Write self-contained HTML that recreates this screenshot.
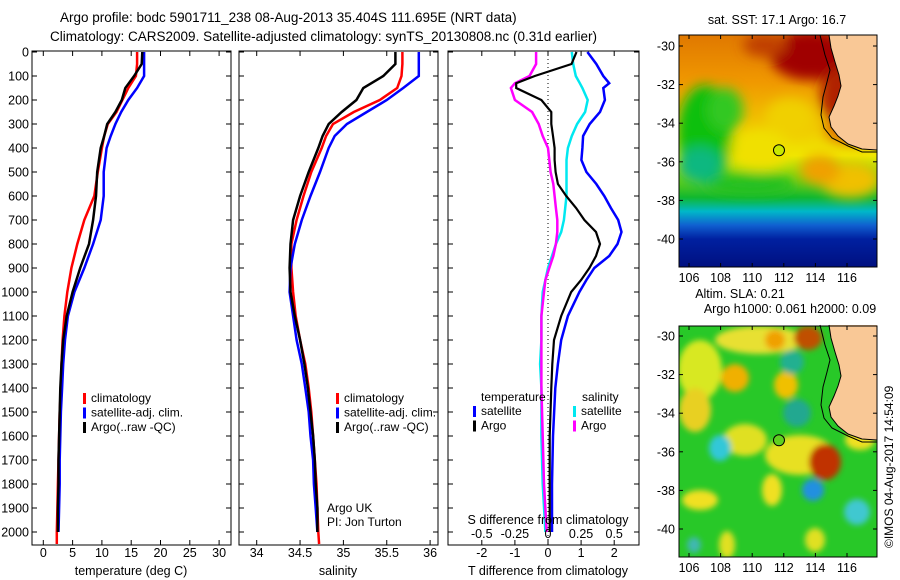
<!DOCTYPE html>
<html><head><meta charset="utf-8">
<style>
html,body{margin:0;padding:0;background:#fff;}
svg{display:block;font-family:"Liberation Sans",sans-serif;}
text{fill:#000;}
</style></head>
<body>
<svg id="chart" width="900" height="580" viewBox="0 0 900 580" xmlns="http://www.w3.org/2000/svg">
<defs>
<filter id="blur6" x="-20%" y="-20%" width="140%" height="140%"><feGaussianBlur stdDeviation="6"/></filter>
<filter id="blur3" x="-20%" y="-20%" width="140%" height="140%"><feGaussianBlur stdDeviation="3"/></filter>
<clipPath id="clipMap1"><rect x="679" y="35" width="198" height="232"/></clipPath>
<clipPath id="clipMap2"><rect x="679" y="326" width="198" height="231"/></clipPath>
<linearGradient id="sstGrad" x1="0" y1="0" x2="0" y2="1">
<stop offset="0" stop-color="#e07800"/><stop offset="0.2" stop-color="#f09800"/>
<stop offset="0.4" stop-color="#f0c800"/><stop offset="0.52" stop-color="#f0e800"/>
<stop offset="0.62" stop-color="#70d010"/><stop offset="0.7" stop-color="#10b830"/>
<stop offset="0.76" stop-color="#00b8c8"/><stop offset="0.82" stop-color="#1060d0"/>
<stop offset="0.88" stop-color="#0020a0"/><stop offset="1" stop-color="#001080"/></linearGradient>
</defs>
<text x="60" y="22" font-size="13.5">Argo profile: bodc 5901711_238 08-Aug-2013 35.404S 111.695E (NRT data)</text>
<text x="50" y="41" font-size="13.5">Climatology: CARS2009. Satellite-adjusted climatology: synTS_20130808.nc (0.31d earlier)</text>
<g id="p1"></g>
<g id="p2"></g>
<g id="p3"></g>
<g id="m1"></g>
<g id="m2"></g>
<text transform="translate(893,548) rotate(-90)" font-size="12">©IMOS 04-Aug-2017 14:54:09</text>
</svg>
<script>
// ---------- data ----------
const depthTS = [0,50,100,150,200,250,300,350,400,500,600,700,800,900,1000,1100,1200,1300,1400,1500,1600,1700,1800,1900,2000,2050];
const tempClim = [16,16,15.8,14.5,13.5,12.5,11,10.4,10,9.3,8.7,7,5.8,4.8,4.1,3.6,3.3,3.1,3,2.8,2.7,2.6,2.5,2.4,2.3,2.3];
const tempSat = [17.2,17.2,17.2,16,14.5,13.3,12.3,11.5,10.8,10.3,10.3,9.8,8.5,7,5.3,4.2,3.7,3.4,3.2,3.0,2.9,2.8,2.8,2.7,2.6,2.6];
const tempArgo = [16.9,16.8,15.5,14,13.4,12.3,10.9,10.4,9.8,9.2,9,8.5,7.8,6.3,5,4,3.4,3.1,2.9,2.8,2.7,2.6,2.6,2.5,2.5,2.5];
const salClim = [35.68,35.68,35.67,35.62,35.42,35.12,34.88,34.8,34.75,34.63,34.54,34.46,34.40,34.40,34.42,34.45,34.5,34.56,34.6,34.63,34.65,34.67,34.69,34.70,34.71,34.72];
const salSat = [35.87,35.87,35.87,35.69,35.5,35.27,35.04,34.9,34.83,34.73,34.62,34.52,34.44,34.39,34.38,34.42,34.46,34.52,34.56,34.6,34.62,34.65,34.66,34.68,34.7,34.7];
const salArgo = [35.6,35.6,35.46,35.23,35.15,34.98,34.83,34.76,34.71,34.6,34.5,34.42,34.39,34.38,34.39,34.44,34.5,34.55,34.59,34.62,34.65,34.67,34.68,34.7,34.7,34.7];
const depthDiff = [0,50,100,130,150,200,250,300,350,400,450,500,550,600,650,700,750,800,850,900,950,1000,1100,1200,1300,1400,1600,1800,2000];
const tDiffSat = [1.19,1.46,1.67,1.85,1.67,1.72,1.57,1.26,1.06,1.04,1.01,1.16,1.46,1.7,1.9,2.12,2.22,2.1,1.85,1.4,1.16,0.95,0.6,0.4,0.3,0.22,0.15,0.12,0.12];
const tDiffArgo = [0.86,0.71,-0.4,-0.96,-0.96,-0.2,0.1,0.1,0.15,0.2,0.2,0.23,0.3,0.55,0.85,1.1,1.45,1.57,1.45,1.25,1.0,0.7,0.4,0.18,0.13,0.1,0.05,0.05,0.05];
const sDiffSat = [0.18,0.19,0.21,0.24,0.26,0.3,0.28,0.22,0.18,0.15,0.14,0.14,0.14,0.14,0.13,0.12,0.1,0.06,0.03,0,-0.02,-0.04,-0.05,-0.05,-0.06,-0.05,-0.05,-0.04,-0.02];
const sDiffArgo = [-0.09,-0.09,-0.14,-0.25,-0.28,-0.25,-0.12,-0.07,-0.04,0,0.01,0.02,0.04,0.05,0.06,0.07,0.07,0.06,0.04,0.01,-0.02,-0.03,-0.05,-0.05,-0.05,-0.05,-0.04,-0.03,-0.01];
const depthTicks = [0,100,200,300,400,500,600,700,800,900,1000,1100,1200,1300,1400,1500,1600,1700,1800,1900,2000];
const tempTicks = [0,5,10,15,20,25,30];
const salTicks = [34,34.5,35,35.5,36];
const tDiffTicks = [-2,-1,0,1,2];
const sDiffTicks = [-0.5,-0.25,0,0.25,0.5];
const sDiffTickLabels = ["-0.5","-0.25","0","0.25","0.5"];
const latTicks = [-30,-32,-34,-36,-38,-40];
const lonTicks = [106,108,110,112,114,116];
const argoLon = 111.695, argoLat = -35.404;

// ---------- scales ----------
const yD = d => 52 + d*0.24;
const xT = t => 43.3 + t*5.86;
const xS = s => 256.7 + (s-34)*86.7;
const xTD = t => 548 + t*33.1;
const xSD = s => 548 + s*132.4;
const mapX = lon => 689 + (lon-106)*15.8;
const mapY1 = lat => 46 + (-30-lat)*19.3;
const mapY2 = lat => 336 + (-30-lat)*19.3;

const NS="http://www.w3.org/2000/svg";
function mk(parent, tag, attrs, text){
  const e=document.createElementNS(NS,tag);
  for(const k in attrs) e.setAttribute(k,attrs[k]);
  if(text!==undefined) e.textContent=text;
  parent.appendChild(e); return e;
}
function frame(g, x0, x1, y0, y1, name){
  const r = mk(g,'rect',{x:x0,y:y0,width:x1-x0,height:y1-y0,fill:'none',stroke:'#000','stroke-width':1});
  
  
}
function depthTicksDraw(g, x0, x1, labels){
  depthTicks.forEach(d=>{
    const y=yD(d);
    mk(g,'line',{x1:x0,x2:x0+5,y1:y,y2:y,stroke:'#000'});
    mk(g,'line',{x1:x1-5,x2:x1,y1:y,y2:y,stroke:'#000'});
    if(labels){
      const t=mk(g,'text',{x:x0-3,y:y+4.5,'font-size':12.5,'text-anchor':'end'},String(d));
      
      
    }
  });
}
function xTicks(g, ticks, labels, fx, y0, y1, ly){
  ticks.forEach((v,i)=>{
    const x=fx(v);
    mk(g,'line',{x1:x,x2:x,y1:y1,y2:y1-5,stroke:'#000'});
    mk(g,'line',{x1:x,x2:x,y1:y0,y2:y0+5,stroke:'#000'});
    const t=mk(g,'text',{x:x,y:ly,'font-size':12.5,'text-anchor':'middle'},labels[i]);
    
    
  });
}
function series(g, xs, ds, fx, color, w, name){
  const pts = xs.map((v,i)=>fx(v).toFixed(1)+','+yD(ds[i]).toFixed(1)).join(' ');
  const p = mk(g,'polyline',{points:pts,fill:'none',stroke:color,'stroke-width':w,'stroke-linejoin':'miter'});
  
  
}
function legend(g, x, y, entries){
  entries.forEach((e,i)=>{
    const yy=y+i*14.5;
    const m=mk(g,'rect',{x:x,y:yy-9,width:3,height:11,fill:e[1]});
    
    
    const t=mk(g,'text',{x:x+8,y:yy,'font-size':12},e[0]);
    
    
  });
}
const YB = 545;

// ---------- panel 1 ----------
const p1=document.getElementById('p1');
series(p1,tempClim,depthTS,xT,'#ff0000',2.5,'temp-climatology-line');
series(p1,tempSat,depthTS.slice(0,25),xT,'#0000ff',2.5,'temp-satellite-line');
series(p1,tempArgo,depthTS.slice(0,25),xT,'#000000',2.5,'temp-argo-line');
frame(p1,32,231,51,YB,'temperature-axes');
depthTicksDraw(p1,32,231,true);
xTicks(p1,tempTicks,tempTicks.map(String),xT,51,YB,557);
mk(p1,'text',{x:131,y:575,'font-size':12.5,'text-anchor':'middle'},'temperature (deg C)');
legend(p1,83,402,[['climatology','#ff0000'],['satellite-adj. clim.','#0000ff'],['Argo(..raw -QC)','#000000']]);

// ---------- panel 2 ----------
const p2=document.getElementById('p2');
series(p2,salClim,depthTS,xS,'#ff0000',2.5,'sal-climatology-line');
series(p2,salSat,depthTS.slice(0,25),xS,'#0000ff',2.5,'sal-satellite-line');
series(p2,salArgo,depthTS.slice(0,25),xS,'#000000',2.5,'sal-argo-line');
frame(p2,239,438,51,YB,'salinity-axes');
depthTicksDraw(p2,239,438,false);
xTicks(p2,salTicks,salTicks.map(String),xS,51,YB,557);
mk(p2,'text',{x:338,y:575,'font-size':12.5,'text-anchor':'middle'},'salinity');
legend(p2,336,402,[['climatology','#ff0000'],['satellite-adj. clim.','#0000ff'],['Argo(..raw -QC)','#000000']]);
mk(p2,'text',{x:327,y:512,'font-size':12},'Argo UK');
mk(p2,'text',{x:327,y:526,'font-size':12},'PI: Jon Turton');

// ---------- panel 3 ----------
const p3=document.getElementById('p3');
mk(p3,'line',{x1:548,x2:548,y1:51,y2:YB,stroke:'#000','stroke-dasharray':'1,3'});
series(p3,sDiffSat,depthDiff,xSD,'#00e8f0',2.5,'sal-diff-satellite-line');
series(p3,sDiffArgo,depthDiff,xSD,'#ff00ff',2.5,'sal-diff-argo-line');
series(p3,tDiffSat,depthDiff,xTD,'#0000ff',2.5,'temp-diff-satellite-line');
series(p3,tDiffArgo,depthDiff,xTD,'#000000',2.2,'temp-diff-argo-line');
frame(p3,448,639,51,YB,'difference-axes');
depthTicksDraw(p3,448,639,false);
tDiffTicks.forEach(v=>{const x=xTD(v);mk(p3,'line',{x1:x,x2:x,y1:YB,y2:YB-5,stroke:'#000'});mk(p3,'line',{x1:x,x2:x,y1:51,y2:56,stroke:'#000'});
  const t=mk(p3,'text',{x:x,y:557,'font-size':12.5,'text-anchor':'middle'},String(v));});
sDiffTicks.forEach((v,i)=>{const t=mk(p3,'text',{x:xSD(v),y:538,'font-size':12.5,'text-anchor':'middle'},sDiffTickLabels[i]);});
mk(p3,'text',{x:548,y:524,'font-size':12.5,'text-anchor':'middle'},'S difference from climatology');
mk(p3,'text',{x:548,y:575,'font-size':12.5,'text-anchor':'middle'},'T difference from climatology');
mk(p3,'text',{x:481,y:401,'font-size':12},'temperature');
mk(p3,'text',{x:582,y:401,'font-size':12},'salinity');
legend(p3,473,415,[['satellite','#0000ff'],['Argo','#000000']]);
legend(p3,573,415,[['satellite','#00e8f0'],['Argo','#ff00ff']]);

// ---------- maps ----------
function land(g, dy){
  const pts=[[829,35],[877,35],[877,150],[862,149],[848,144],[838,136],[831,127],[829,117],[834,106],[838,96],[841,86],[839,75],[835,62],[831,48]];
  mk(g,'polygon',{points:pts.map(p=>p[0]+','+(p[1]+dy)).join(' '),fill:'#f9c896'});
  const coast=[[820,35],[825,55],[830,70],[827,82],[823,97],[821,115],[824,128],[832,138],[848,146],[862,152],[877,152]];
  mk(g,'polyline',{points:coast.map(p=>p[0]+','+(p[1]+dy)).join(' '),fill:'none',stroke:'#000','stroke-width':1});
  mk(g,'polyline',{points:pts.slice(2).concat([[829,35]]).map(p=>p[0]+','+(p[1]+dy)).join(' '),fill:'none',stroke:'#000','stroke-width':1});
}
function mapAxes(g, y0, y1, fy, name){
  frame(g,679,877,y0,y1,name);
  latTicks.forEach(l=>{const y=fy(l);mk(g,'line',{x1:679,x2:683,y1:y,y2:y,stroke:'#000'});mk(g,'line',{x1:873,x2:877,y1:y,y2:y,stroke:'#000'});
    const t=mk(g,'text',{x:675,y:y+4.5,'font-size':12.5,'text-anchor':'end'},String(l));});
  lonTicks.forEach(l=>{const x=mapX(l);mk(g,'line',{x1:x,x2:x,y1:y0,y2:y0+4,stroke:'#000'});mk(g,'line',{x1:x,x2:x,y1:y1,y2:y1-4,stroke:'#000'});
    const t=mk(g,'text',{x:x,y:y1+15,'font-size':12.5,'text-anchor':'middle'},String(l));});
}
function blobs(g, list, filt){
  const bg=mk(g,'g',{filter:'url(#'+filt+')'});
  list.forEach(b=>mk(bg,'ellipse',{cx:b[0],cy:b[1],rx:b[2],ry:b[3],fill:b[4]}));
}
// SST map
const m1=document.getElementById('m1');
const c1=mk(m1,'g',{'clip-path':'url(#clipMap1)'});
mk(c1,'rect',{x:679,y:35,width:198,height:232,fill:'url(#sstGrad)'});
blobs(c1,[[810,55,40,25,'#a00000'],[765,45,22,12,'#c04000'],[845,95,25,30,'#b02000'],[855,130,30,14,'#e07000'],
  [705,135,28,50,'#10c010'],[725,110,18,22,'#30c820'],[700,165,22,18,'#10b880'],[850,180,30,18,'#f0c000'],[820,170,20,15,'#f0a000'],
  [790,118,25,20,'#f0d000'],[760,150,30,20,'#f0e000'],[750,185,45,10,'#20c020']],'blur6');
land(m1,0);
mk(m1,'text',{x:777,y:24,'font-size':12.5,'text-anchor':'middle'},'sat. SST: 17.1 Argo: 16.7');
const dot1=mk(m1,'circle',{cx:mapX(argoLon),cy:mapY1(argoLat),r:5.5,fill:'#c8e800',stroke:'#000'});


mapAxes(m1,35,267,mapY1,'sst-map-axes');
// SLA map
const m2=document.getElementById('m2');
const c2=mk(m2,'g',{'clip-path':'url(#clipMap2)'});
mk(c2,'rect',{x:679,y:326,width:198,height:231,fill:'#28c828'});
blobs(c2,[[760,340,45,14,'#e8e030'],[700,370,22,30,'#d8e820'],[695,410,16,22,'#e8d020'],[735,378,14,14,'#f0b000'],[786,385,12,14,'#f0c000'],
  [775,340,10,10,'#f0a000'],[808,338,14,12,'#c05000'],[800,455,35,20,'#e8e020'],[745,440,22,16,'#e0e020'],[825,462,16,18,'#c03000'],
  [720,448,11,13,'#30c8d8'],[813,490,11,11,'#2090e0'],[857,512,13,13,'#40c8d0'],[792,362,12,12,'#20b090'],[797,413,14,14,'#20a890'],
  [772,490,10,16,'#f0e020'],[727,545,8,14,'#e0e020'],[815,540,10,12,'#e0e020'],[694,545,7,8,'#40b8b0'],[700,500,18,10,'#f0e020'],
  [860,440,15,10,'#f0e020']],'blur3');
land(m2,290);
mk(m2,'text',{x:740,y:298,'font-size':12.5,'text-anchor':'middle'},'Altim. SLA: 0.21');
mk(m2,'text',{x:790,y:313,'font-size':12.5,'text-anchor':'middle'},'Argo h1000: 0.061 h2000: 0.09');
const dot2=mk(m2,'circle',{cx:mapX(argoLon),cy:mapY2(argoLat),r:5.5,fill:'#60d020',stroke:'#000'});


mapAxes(m2,326,557,mapY2,'sla-map-axes');
</script>
</body></html>
